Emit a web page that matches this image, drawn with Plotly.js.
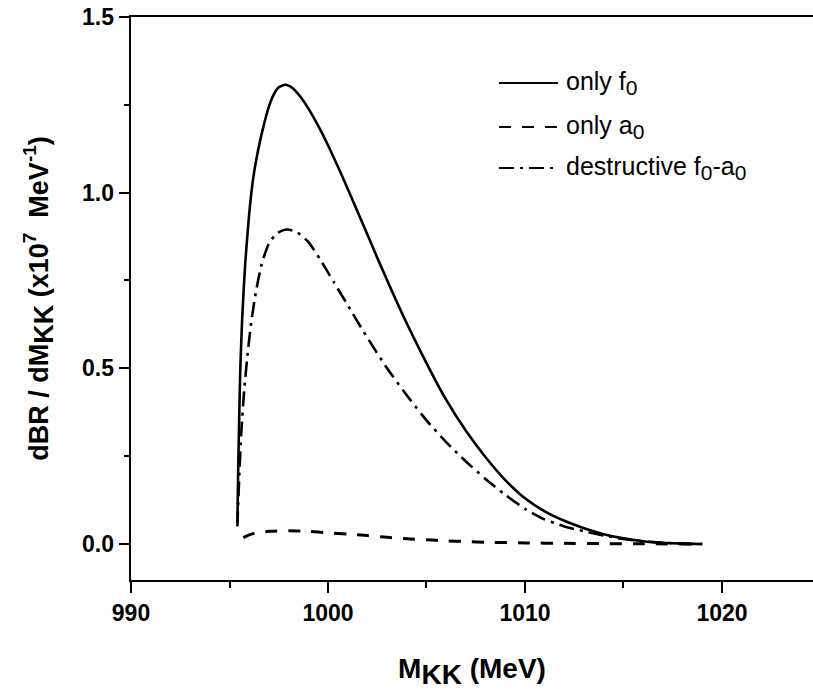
<!DOCTYPE html>
<html>
<head>
<meta charset="utf-8">
<script src="https://cdn.plot.ly/plotly-3.0.1.min.js"></script>
<style>html,body{margin:0;padding:0;background:#fff;}#chart{width:813px;height:693px;}</style>
</head>
<body>
<div id="chart"></div>
<script>
// M_KK (MeV) and dBR/dM_KK (x10^7 MeV^-1)
const massF0 = [995.40,995.45,995.50,995.55,995.65,995.80,996.00,996.20,996.45,996.73,997.00,997.25,997.50,997.84,998.20,998.60,999.00,999.60,1000.00,1000.71,1001.64,1002.50,1003.84,1005.00,1005.95,1007.00,1008.00,1009.00,1010.00,1011.00,1012.00,1013.00,1014.00,1015.00,1016.00,1017.00,1018.00,1019.00];
const onlyF0 = [0.06,0.24,0.38,0.50,0.65,0.80,0.94,1.04,1.12,1.19,1.245,1.28,1.300,1.307,1.298,1.273,1.24,1.18,1.135,1.048,0.928,0.815,0.647,0.515,0.415,0.322,0.247,0.182,0.130,0.093,0.066,0.045,0.028,0.016,0.008,0.0035,0.001,0.0];

const massA0 = [995.70,996.00,996.50,997.00,998.00,999.00,1000.00,1001.00,1002.00,1003.00,1004.00,1005.00,1006.00,1007.00,1008.00,1010.00,1012.00,1014.00,1016.00,1019.00];
const onlyA0 = [0.018,0.026,0.033,0.036,0.038,0.036,0.032,0.028,0.024,0.019,0.015,0.012,0.009,0.007,0.005,0.003,0.002,0.001,0.0005,0.0];

const massDes = [995.40,995.50,995.60,995.75,995.90,996.10,996.35,996.65,997.00,997.40,997.90,998.40,999.00,999.60,1000.30,1001.00,1001.80,1003.00,1004.18,1005.00,1006.00,1007.00,1008.00,1009.00,1010.00,1010.90,1012.00,1013.00,1014.00,1015.00,1016.00,1017.00,1018.00,1019.00];
const destructive = [0.05,0.20,0.32,0.44,0.53,0.63,0.72,0.80,0.855,0.884,0.895,0.888,0.86,0.81,0.745,0.68,0.605,0.50,0.41,0.352,0.29,0.235,0.185,0.14,0.10,0.072,0.05,0.036,0.024,0.014,0.0075,0.0035,0.001,0.0];

const SUB0 = '<sub><span style="font-size:21px">0</span></sub>';
const seriesNames = ['only f' + SUB0, 'only a' + SUB0, 'destructive f' + SUB0 + '-a' + SUB0];
const seriesDash = ['solid','12px,11px','15px,6px,3px,6px'];

const FONT = '"Liberation Sans", Arial, sans-serif';

const traces = [
  {x: massF0, y: onlyF0, mode:'lines', name: seriesNames[0], line:{color:'#000', width:2.6, dash:seriesDash[0], shape:'spline', smoothing:0.6}},
  {x: massA0, y: onlyA0, mode:'lines', name: seriesNames[1], line:{color:'#000', width:3, dash:seriesDash[1], shape:'spline', smoothing:0.6}},
  {x: massDes, y: destructive, mode:'lines', name: seriesNames[2], line:{color:'#000', width:2.6, dash:seriesDash[2], shape:'spline', smoothing:0.6}}
];

// manual legend (paper coordinates)
const legY = [0.8828, 0.8046, 0.7318];
const shapes = [];
const annotations = [];
for (let i = 0; i < 3; i++) {
  shapes.push({type:'line', xref:'paper', yref:'paper', x0:0.5396, x1:0.626, y0:legY[i], y1:legY[i],
               line:{color:'#000', width:2.2, dash:seriesDash[i]}});
  annotations.push({xref:'paper', yref:'paper', x:0.6350, y:legY[i], xanchor:'left', yanchor:'middle',
                    text:seriesNames[i], showarrow:false, font:{family:FONT, size:25, color:'#000'}});
}

const layout = {
  width: 813, height: 693,
  margin: {l:131, r:0, t:17, b:113},
  paper_bgcolor:'#fff', plot_bgcolor:'#fff',
  showlegend:false,
  font:{family:FONT, color:'#000'},
  xaxis:{
    range:[990, 1024.62], tickvals:[990,1000,1010,1020], ticktext:['990','1000','1010','1020'],
    ticks:'outside', ticklen:11, tickwidth:2, tickcolor:'#000',
    minor:{tickvals:[995,1005,1015], ticks:'outside', ticklen:6, tickwidth:2, tickcolor:'#000', showgrid:false},
    showline:true, linewidth:2.4, linecolor:'#000', mirror:true,
    showgrid:false, zeroline:false,
    tickfont:{family:FONT, size:23, weight:'bold', color:'#000'},
    title:{text:'M<sub><span style="font-size:28px">KK</span></sub> (MeV)', font:{family:FONT, size:28, weight:'bold', color:'#000'}, standoff:34}
  },
  yaxis:{
    range:[-0.1025, 1.5], tickvals:[0,0.5,1.0,1.5], ticktext:['0.0','0.5','1.0','1.5'],
    ticks:'outside', ticklen:10, tickwidth:2, tickcolor:'#000',
    minor:{tickvals:[0.25,0.75,1.25], ticks:'outside', ticklen:5, tickwidth:2, tickcolor:'#000', showgrid:false},
    showline:true, linewidth:2.4, linecolor:'#000', mirror:false,
    showgrid:false, zeroline:false,
    tickfont:{family:FONT, size:23, weight:'bold', color:'#000'},
    title:{text:'dBR / dM<sub><span style="font-size:27px">KK</span></sub> (x10<sup>7</sup>  MeV<sup>-1</sup>)', font:{family:FONT, size:27, weight:'bold', color:'#000'}, standoff:26}
  },
  shapes: shapes,
  annotations: annotations
};

Plotly.newPlot('chart', traces, layout, {displayModeBar:false, staticPlot:true});
</script>
</body>
</html>
